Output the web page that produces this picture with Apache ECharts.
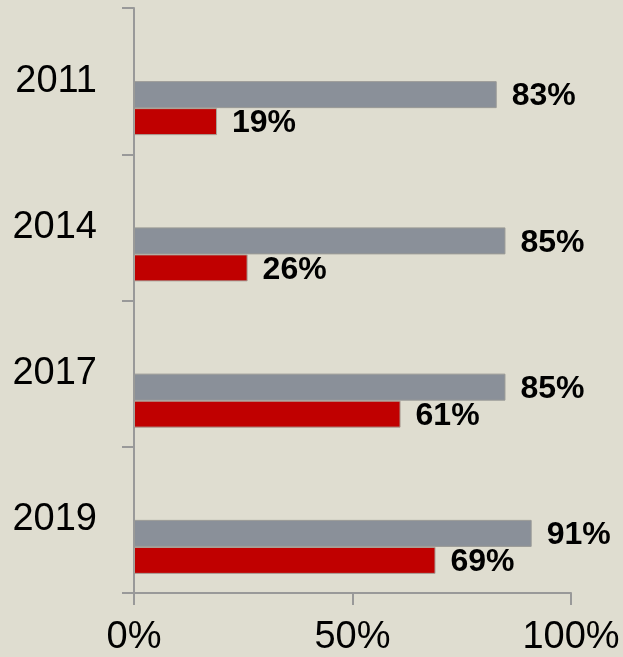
<!DOCTYPE html>
<html>
<head>
<meta charset="utf-8">
<script src="https://cdn.jsdelivr.net/npm/echarts@6/dist/echarts.min.js"></script>
<style>
  html, body { margin: 0; padding: 0; background: #dfddd0; }
  #chart { width: 623px; height: 657px; }
</style>
</head>
<body>
<div id="chart"></div>
<script>
const years = ['2011', '2014', '2017', '2019']
const grayValues = [83, 85, 85, 91]
const redValues = [19, 26, 61, 69]
const xTicks = [0, 50, 100]

const font = '"Liberation Sans", Arial, sans-serif'
const blank = years.map(() => '-')

const chart = echarts.init(document.getElementById('chart'))

const valueLabel = {
  show: true,
  position: 'right',
  distance: 15,
  offset: [0, 2],
  formatter: p => p.value + '%',
  fontFamily: font,
  fontSize: 32,
  fontWeight: 'bold',
  color: '#000'
}

chart.setOption({
  backgroundColor: '#dfddd0',
  animation: false,
  grid: { left: 134, right: 52, top: 8, bottom: 63 },
  xAxis: {
    type: 'value',
    min: xTicks[0],
    max: xTicks[xTicks.length - 1],
    interval: 50,
    splitLine: { show: false },
    axisLine: { show: true, lineStyle: { color: '#999', width: 2 } },
    axisTick: { show: true, length: 12, lineStyle: { color: '#999', width: 2 } },
    axisLabel: {
      formatter: v => v + '%',
      fontFamily: font,
      fontSize: 38,
      color: '#000',
      margin: 26
    }
  },
  yAxis: {
    type: 'category',
    data: years,
    inverse: true,
    axisLine: { show: true, lineStyle: { color: '#999', width: 2 } },
    axisTick: { show: true, length: 12, lineStyle: { color: '#999', width: 2 } },
    axisLabel: {
      fontFamily: font,
      fontSize: 38,
      color: '#000',
      margin: 37
    }
  },
  series: [
    { type: 'bar', data: blank, barWidth: 27, barGap: '0%' },
    { type: 'bar', data: blank, barWidth: 27, barGap: '0%' },
    {
      type: 'bar',
      data: grayValues,
      barWidth: 27,
      barGap: '0%',
      itemStyle: { color: '#8a9099', borderColor: '#9a9a96', borderWidth: 1 },
      label: valueLabel
    },
    {
      type: 'bar',
      data: redValues,
      barWidth: 27,
      barGap: '0%',
      itemStyle: { color: '#c00000', borderColor: '#a8a39a', borderWidth: 1 },
      label: valueLabel
    }
  ]
})
</script>
</body>
</html>
